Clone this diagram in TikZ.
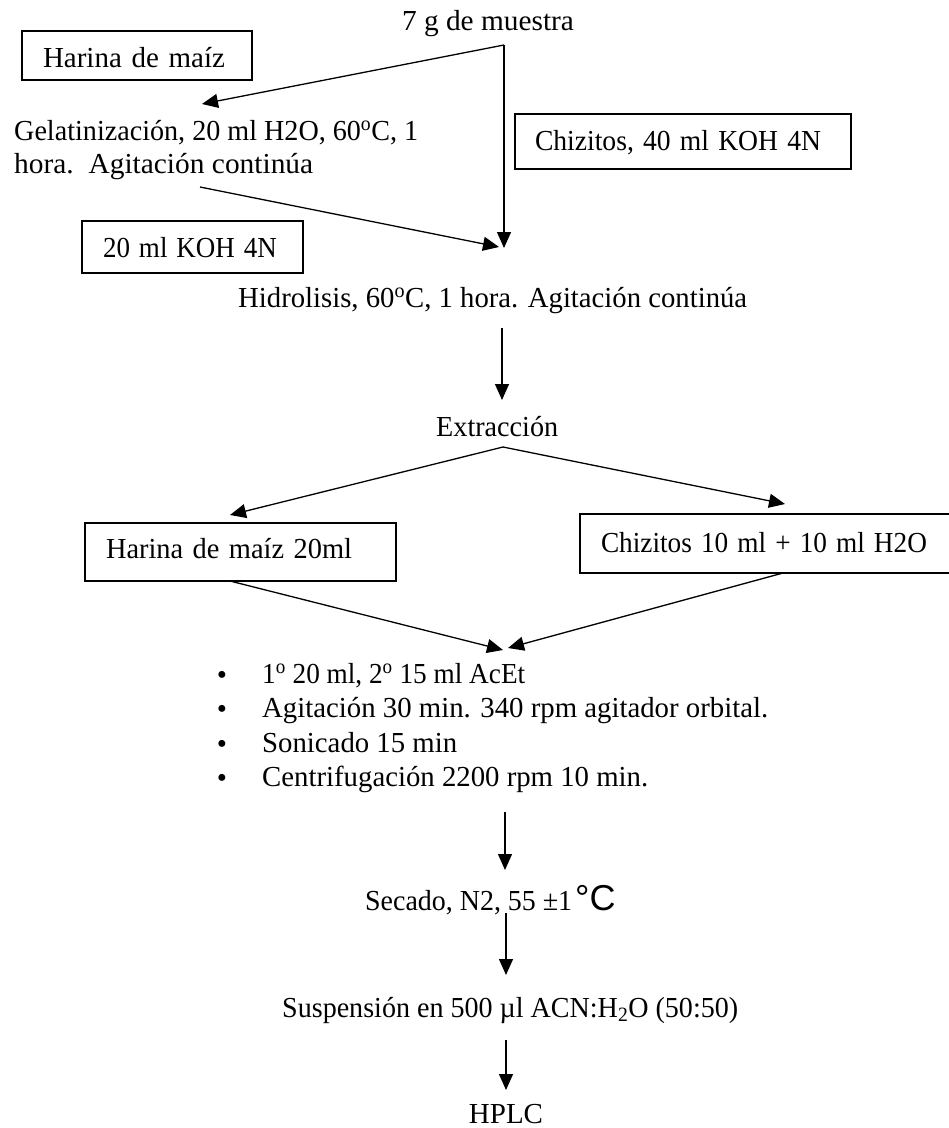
\documentclass[tikz,border=0pt]{standalone}
\usepackage{fontspec}
\setmainfont{Liberation Serif}
\newfontfamily\sansf{Liberation Sans}
\usepackage{graphicx}
\usetikzlibrary{arrows.meta}
\newcommand\fw[2]{\resizebox{#1pt}{\height}{#2}}
\begin{document}
\begin{tikzpicture}[x=1pt,y=-1pt,
  every node/.style={font=\fontsize{29}{34}\selectfont, inner sep=0pt},
  arr/.style={line width=1.3pt, -{Triangle[length=16pt,width=14pt]}},
  boxed/.style={draw, line width=1.4pt, align=left, inner ysep=0pt}]
\useasboundingbox (0,0) rectangle (949,1128);

% boxes
\node[boxed, inner xsep=21pt, text width=188pt, minimum height=49pt, text height=27pt, text depth=4pt] (hm1) at (137,55.5) {\fw{182}{Harina de maíz}};
\node[boxed, inner xsep=20pt, text width=296pt, minimum height=55pt, text height=21pt, text depth=4pt] (ch1) at (683,141.5) {\fw{286}{Chizitos, 40 ml KOH 4N}};
\node[boxed, inner xsep=21pt, text width=179pt, minimum height=52pt, text height=24pt, text depth=4pt] (koh) at (192.5,247) {\fw{174}{20 ml KOH 4N}};
\node[boxed, inner xsep=21pt, text width=269pt, minimum height=58pt, text height=16pt, text depth=4pt] (hm2) at (240.5,552) {\fw{246}{Harina de maíz 20ml}};
\node[boxed, inner xsep=21pt, text width=378pt, minimum height=59pt, text height=21pt, text depth=4pt] (ch2) at (790,543.5) {\fw{326}{Chizitos 10 ml + 10 ml H2O}};

% texts
\node[anchor=base] (t7g) at (488,30) {\fw{172}{7 g de muestra}};
\node[anchor=base west] (gel1) at (14,140) {\fw{404}{Gelatinización, 20 ml H2O, 60\textsuperscript{o}C, 1}};
\node[anchor=base west] (gel2) at (14,173) {\fw{299}{hora.\ \ Agitación continúa}};
\node[anchor=base west] (hid) at (238,307) {\fw{509}{Hidrolisis, 60\textsuperscript{o}C, 1 hora. Agitación continúa}};
\node[anchor=base west] (ext) at (436,436) {\fw{122}{Extracción}};

\node[anchor=base] (bu1) at (222,684) {\textbullet};
\node[anchor=base] (bu2) at (222,718) {\textbullet};
\node[anchor=base] (bu3) at (222,753) {\textbullet};
\node[anchor=base] (bu4) at (222,787) {\textbullet};
\node[anchor=base west] (li1) at (262,683) {\fw{263}{1\textsuperscript{o} 20 ml, 2\textsuperscript{o} 15 ml AcEt}};
\node[anchor=base west] (li2) at (262,717) {\fw{506}{Agitación 30 min. 340 rpm agitador orbital.}};
\node[anchor=base west] (li3) at (262,752) {\fw{195}{Sonicado 15 min}};
\node[anchor=base west] (li4) at (262,786) {\fw{386}{Centrifugación 2200 rpm 10 min.}};

\node[anchor=base west] (sec) at (365,910) {\fw{207}{Secado, N2, 55 ±1}\hspace{3pt}{\sansf\fontsize{36}{40}\selectfont °C}};
\node[anchor=base west] (sus) at (282,1017) {\fw{456}{Suspensión en 500 µl ACN:H\textsubscript{2}O (50:50)}};
\node[anchor=base] (hplc) at (506,1123) {HPLC};

% connector points
\coordinate (c1) at (504,45);
\coordinate (gtip) at (202,104);
\coordinate (g2s) at (200,187);
\coordinate (htipA) at (504,248);
\coordinate (htipB) at (499,247);
\coordinate (hs) at (502,328);
\coordinate (etip) at (502,400);
\coordinate (sp) at (503,447);
\coordinate (ltip) at (230,515);
\coordinate (rtip) at (785,504);
\coordinate (hm2s) at (230,581);
\coordinate (ch2s) at (783,573);
\coordinate (mtipL) at (503,650);
\coordinate (mtipR) at (508,648);
\coordinate (a1s) at (505,812);
\coordinate (a1t) at (505,870);
\coordinate (a2s) at (506,913);
\coordinate (a2t) at (506,975);
\coordinate (a3s) at (506,1040);
\coordinate (a3t) at (506,1090);

\draw[arr] (c1) -- (gtip);
\draw[arr] (c1) -- (htipA);
\draw[arr] (g2s) -- (htipB);
\draw[arr] (hs) -- (etip);
\draw[arr] (sp) -- (ltip);
\draw[arr] (sp) -- (rtip);
\draw[arr] (hm2s) -- (mtipL);
\draw[arr] (ch2s) -- (mtipR);
\draw[arr] (a1s) -- (a1t);
\draw[arr] (a2s) -- (a2t);
\draw[arr] (a3s) -- (a3t);
\end{tikzpicture}
\end{document}
